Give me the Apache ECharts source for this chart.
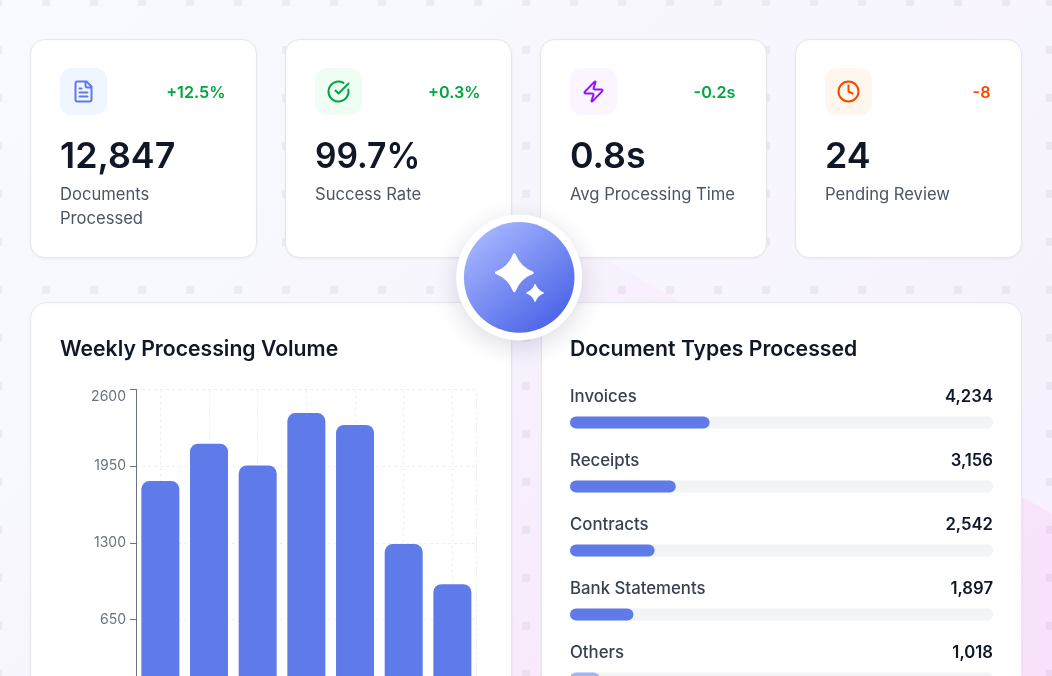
<!DOCTYPE html>
<html>
<head>
<meta charset="utf-8">
<script src="https://cdn.jsdelivr.net/npm/echarts@6/dist/echarts.min.js"></script>
<style>
html,body{margin:0;padding:0;width:1052px;height:676px;overflow:hidden;}
#bg{position:absolute;left:0;top:0;width:1052px;height:676px;background:linear-gradient(135deg,#f8faff 0%,#f7f5fd 55%,#f6f0fc 100%);}
#edge{position:absolute;left:0;top:0;width:1052px;height:676px;
  background:linear-gradient(135deg,rgba(248,220,251,0) 40%,rgba(248,220,251,.3) 62%,rgba(249,223,251,.92) 100%);
  clip-path:polygon(0 -87px,1052px 514px,1052px 676px,0 676px);}
#dots{position:absolute;left:0;top:0;width:1052px;height:676px;
  background:rgba(60,30,60,.055);
  -webkit-mask-image:repeating-linear-gradient(90deg,#000 0 8px,transparent 8px 48px),repeating-linear-gradient(180deg,#000 0 8px,transparent 8px 48px);
  -webkit-mask-position:-6px 0,0 -2px;
  -webkit-mask-composite:source-in;mask-composite:intersect;}
#chart{position:absolute;left:0;top:0;width:1052px;height:720px;}
</style>
</head>
<body>
<div id="bg"></div><div id="edge"></div><div id="dots"></div>
<div id="chart"></div>
<script>
// Weekly Processing Volume
const weekDays = ['Mon','Tue','Wed','Thu','Fri','Sat','Sun'];
const weekVolume = [1824,2140,1956,2400,2300,1290,950];
const volumeTicks = [0,650,1300,1950,2600];
// Document Types Processed
const docTypes = ['Invoices','Receipts','Contracts','Bank Statements','Others'];
const docCounts = ['4,234','3,156','2,542','1,897','1,018'];
const docPercents = [33,25,20,15,7];
// KPI cards
const kpiValues = ['12,847','99.7%','0.8s','24'];
const kpiLabels = [['Documents','Processed'],['Success Rate'],['Avg Processing Time'],['Pending Review']];
const kpiDeltas = ['+12.5%','+0.3%','-0.2s','-8'];

const FONT = 'Inter, "Noto Sans", sans-serif';
const cardX = [30.5,285.5,540.5,795.5];
const valueScaleX = [1,0.94,1,1];
const iconBg = ['#eff6ff','#f0fdf4','#faf5ff','#fff7ed'];
const iconStroke = ['#5f7bea','#00a63e','#9810fa','#f54900'];
const deltaColor = ['#00a63e','#00a63e','#00a63e','#f54900'];
const iconPaths = [
 'M15 2H6a2 2 0 0 0-2 2v16a2 2 0 0 0 2 2h12a2 2 0 0 0 2-2V7ZM14 2v4a2 2 0 0 0 2 2h4M10 9H8M16 13H8M16 17H8',
 'M21.801 10A10 10 0 1 1 17 3.335M9 11l3 3L22 4',
 'M4 14a1 1 0 0 1-.78-1.63l9.9-10.2a.5.5 0 0 1 .86.46l-1.92 6.02A1 1 0 0 0 13 10h7a1 1 0 0 1 .78 1.63l-9.9 10.2a.5.5 0 0 1-.86-.46l1.92-6.02A1 1 0 0 0 11 14z',
 'M22 12a10 10 0 1 1-20 0a10 10 0 1 1 20 0ZM12 6v6l4 2'
];
iconPaths.forEach((d,i)=>echarts.graphic.registerShape('kpiIcon'+i, echarts.graphic.extendPath(d,{})));
echarts.graphic.registerShape('sparkle', echarts.graphic.extendPath('M0 -90Q25 -25 90 0Q25 25 0 90Q-25 25 -90 0Q-25 -25 0 -90Z',{}));

const chart = echarts.init(document.getElementById('chart'), null, {renderer:'canvas'});
const gfx = [];
function card(x,y,w,h,r){
  gfx.push({type:'rect',z:-10,shape:{x,y,width:w,height:h,r},
    style:{fill:'#fff',stroke:'#e5e7eb',lineWidth:1,shadowBlur:3,shadowOffsetY:1,shadowColor:'rgba(0,0,0,0.05)'}});
}
function text(t,x,y,size,weight,color,align,sx){
  gfx.push({type:'text',z:1,x,y,scaleX:sx||1,style:{text:t,fontFamily:FONT,fontSize:size,fontWeight:weight,fill:color,align:align||'left',verticalAlign:'middle'}});
}
cardX.forEach((x,i)=>{
  card(x,39.5,226,218,14);
  gfx.push({type:'rect',z:-9,shape:{x:x+29.5,y:68,width:47,height:47,r:12},style:{fill:iconBg[i]}});
  gfx.push({type:'kpiIcon'+i,z:1,x:x+41,y:79.5,style:{fill:null,stroke:iconStroke[i],lineWidth:2,lineCap:'round',lineJoin:'round'}});
  text(kpiDeltas[i],x+195,93.5,16.2,600,deltaColor[i],'right');
  text(kpiValues[i],x+29.5,157,35.8,600,'#101828','left',valueScaleX[i]);
  kpiLabels[i].forEach((l,j)=>text(l,x+29.5,195+24*j,16.6,400,'#4a5565'));
});
card(30.5,302.5,481,440,16);
card(541.5,302.5,480,440,16);
text('Weekly Processing Volume',60,350,21.2,600,'#101828');
text('Document Types Processed',570,350,21.2,600,'#101828');
// centre badge
gfx.push({type:'circle',z:100,shape:{cx:519.2,cy:277.4,r:63},style:{fill:'#fff',shadowBlur:24,shadowOffsetY:6,shadowColor:'rgba(30,40,90,0.16)'}});
gfx.push({type:'circle',z:101,shape:{cx:519.2,cy:277.4,r:55.3},style:{fill:new echarts.graphic.LinearGradient(0.12,0.05,0.88,0.95,[{offset:0,color:'#a8b8ff'},{offset:1,color:'#4760e6'}])}});
gfx.push({type:'sparkle',z:102,x:514.3,y:272.7,scaleX:0.2,scaleY:0.2,style:{fill:'#fff',stroke:'#fff',lineWidth:14,lineJoin:'round'}});
gfx.push({type:'sparkle',z:102,x:535.1,y:293,scaleX:0.092,scaleY:0.092,style:{fill:'#fff',stroke:'#fff',lineWidth:14,lineJoin:'round'}});

const dash = {type:[3,3],color:'#efefef',width:1};
chart.setOption({
  backgroundColor:'transparent',
  animation:false,
  graphic:{elements:gfx},
  grid:[
    {left:136,top:389.5,width:340.7,height:306.8},
    {left:570,top:390.5,width:423,height:320}
  ],
  xAxis:[
    {gridIndex:0,type:'category',data:weekDays,
     axisLine:{show:false},axisTick:{show:false},axisLabel:{show:false},
     splitLine:{show:true,alignWithLabel:true,lineStyle:dash}},
    {gridIndex:1,type:'value',min:0,max:100,show:false}
  ],
  yAxis:[
    {gridIndex:0,type:'value',min:volumeTicks[0],max:volumeTicks[4],interval:650,
     axisLine:{show:true,lineStyle:{color:'#6b7280',width:1}},
     axisTick:{show:true,length:6,lineStyle:{color:'#6b7280'}},
     axisLabel:{color:'#6a7282',fontSize:14,fontFamily:FONT,margin:10,verticalAlignMaxLabel:'top',
       formatter:v=>v===0?'':String(v)},
     splitLine:{show:true,lineStyle:dash}},
    {gridIndex:0,type:'value',position:'right',min:volumeTicks[0],max:volumeTicks[4],interval:650,
     axisLine:{show:true,lineStyle:dash},axisTick:{show:false},axisLabel:{show:false},splitLine:{show:false}},
    {gridIndex:1,type:'category',inverse:true,data:docTypes,show:false}
  ],
  series:[
    {type:'bar',xAxisIndex:0,yAxisIndex:0,data:weekVolume,barWidth:38,
     itemStyle:{color:'#5f7bea',borderRadius:[8,8,0,0]},silent:true},
    {type:'bar',xAxisIndex:1,yAxisIndex:2,data:docPercents,barWidth:12,barGap:'-100%',silent:true,
     showBackground:true,backgroundStyle:{color:'#f3f4f6',borderRadius:6},
     itemStyle:{borderRadius:6,color:p=>p.dataIndex===docPercents.length-1?'#a4b3f3':'#5f7bea'}},
    {type:'bar',xAxisIndex:1,yAxisIndex:2,data:docTypes.map(()=>100),barWidth:12,silent:true,
     itemStyle:{color:'rgba(0,0,0,0)'},
     label:{show:true,position:'insideLeft',distance:0,offset:[0,-25.5],formatter:'{b}',
       color:'#364153',fontSize:16.8,fontWeight:500,fontFamily:FONT}},
    {type:'bar',xAxisIndex:1,yAxisIndex:2,data:docTypes.map(()=>100),barWidth:12,silent:true,
     itemStyle:{color:'rgba(0,0,0,0)'},
     label:{show:true,position:'insideRight',distance:0,offset:[0,-25.5],formatter:p=>docCounts[p.dataIndex],
       color:'#101828',fontSize:16.7,fontWeight:600,fontFamily:FONT}}
  ]
});
</script>
</body>
</html>
